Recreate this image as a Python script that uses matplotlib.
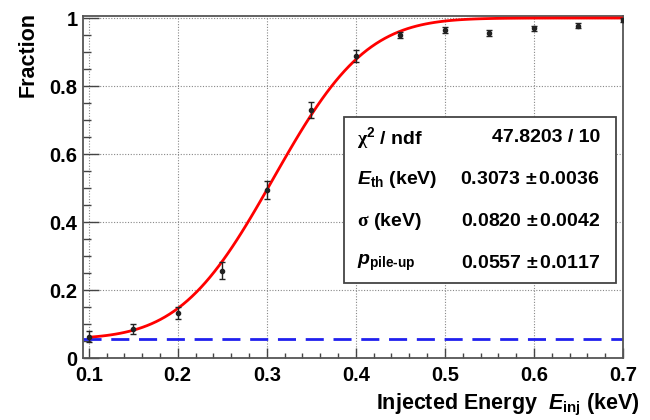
import math
import numpy as np
import matplotlib
matplotlib.use("Agg")
import matplotlib.pyplot as plt
from matplotlib.ticker import MultipleLocator, FuncFormatter

# fonts: helvetica-bold look like ROOT
plt.rcParams['font.family'] = ['Liberation Sans', 'DejaVu Sans']
plt.rcParams['font.weight'] = 'bold'
plt.rcParams['mathtext.fontset'] = 'custom'
plt.rcParams['mathtext.rm'] = 'Liberation Sans:bold'
plt.rcParams['mathtext.it'] = 'Liberation Sans:bold:italic'
plt.rcParams['mathtext.bf'] = 'Liberation Sans:bold'
plt.rcParams['mathtext.sf'] = 'Liberation Serif'

# measured points
energy = [0.10, 0.15, 0.20, 0.25, 0.30, 0.35, 0.40, 0.45, 0.50, 0.55, 0.60, 0.65, 0.70]
fraction = [0.063, 0.086, 0.133, 0.257, 0.495, 0.729, 0.888, 0.950, 0.965, 0.957, 0.970, 0.977, 0.994]
fraction_err = [0.015, 0.014, 0.018, 0.024, 0.027, 0.024, 0.017, 0.010, 0.009, 0.009, 0.008, 0.007, 0.005]

# fit results (from the stats box)
e_th = 0.3073
sigma = 0.0820
p_pileup = 0.0557
stat_labels = [r"$\mathsf{\chi}^{2}$ / ndf", r"$E_{\mathrm{th}}$ (keV)",
               r"$\mathsf{\sigma}$ (keV)", r"$p_{\mathrm{pile\text{-}up}}$"]
stat_values = ["47.8203 / 10", "0.3073 $\\pm\\,$0.0036", "0.0820 $\\pm\\,$0.0042", "0.0557 $\\pm\\,$0.0117"]

W, H = 650, 420
fig = plt.figure(figsize=(6.5, 4.2), dpi=100)
ax = fig.add_axes([83 / W, 62 / H, 540 / W, 342 / H])

ax.errorbar(energy, fraction, yerr=fraction_err, fmt='o', color='#222222', ms=3,
            elinewidth=1, capsize=2.5, capthick=1, zorder=4)

# fit curve from the fitted parameters
x_fit = np.linspace(0.1, 0.7, 120)
erf_vals = np.array([math.erf((v - e_th) / (math.sqrt(2) * sigma)) for v in x_fit])
ax.plot(x_fit, p_pileup + (1 - p_pileup) * 0.5 * (1 + erf_vals), color='#ff0000', lw=2, zorder=3)

ax.axhline(p_pileup, color='#2020ee', lw=2, dashes=(6.5, 3.5), zorder=2)

ax.set_xlim(0.0936, 0.7)
ax.set_ylim(0, 1.006)
ax.xaxis.set_major_locator(MultipleLocator(0.1))
ax.xaxis.set_minor_locator(MultipleLocator(0.02))
ax.yaxis.set_major_locator(MultipleLocator(0.2))
ax.yaxis.set_minor_locator(MultipleLocator(0.05))
ax.yaxis.set_major_formatter(FuncFormatter(lambda v, p: "%g" % round(v, 2)))
ax.xaxis.set_major_formatter(FuncFormatter(lambda v, p: "%.1f" % v))
ax.tick_params(axis='x', which='major', direction='in', length=7.2, width=1, labelsize=14.5, pad=6, color='#444444')
ax.tick_params(axis='x', which='minor', direction='in', length=3.6, width=1, color='#444444')
ax.tick_params(axis='y', which='major', direction='in', length=11.5, width=1, labelsize=14.5, pad=4, color='#444444')
ax.tick_params(axis='y', which='minor', direction='in', length=5.8, width=1, color='#444444')
for lab in ax.get_xticklabels() + ax.get_yticklabels():
    lab.set_fontweight('bold')
ax.grid(True, which='major', linestyle=(0, (1, 1.5)), color='#888888', lw=0.8)
for s in ax.spines.values():
    s.set_color('#555555')
    s.set_linewidth(1.3)

fig.text(640 / W, 1 - 409 / H, r"Injected Energy  $E_{\mathrm{inj}}$ (keV)", ha='right', va='baseline',
         fontsize=15.5, fontweight='bold')
fig.text(28 / W, 1 - 12 / H, "Fraction", rotation=90, ha='center', va='top', fontsize=15.5, fontweight='bold')

# stats box
box = plt.Rectangle((344 / W, 1 - 283 / H), 272 / W, 166 / H, transform=fig.transFigure,
                    facecolor='white', edgecolor='#444444', lw=1.3, zorder=10)
fig.add_artist(box)
row_y = [138, 180, 221.5, 263]
for lab, val, yy in zip(stat_labels, stat_values, row_y):
    fig.text(357 / W, 1 - yy / H, lab, ha='left', va='center', fontsize=14, fontweight='bold', zorder=11)
    fig.text(600 / W, 1 - yy / H, val, ha='right', va='center', fontsize=14, fontweight='bold', zorder=11)

fig.savefig("out.png", dpi=100)
